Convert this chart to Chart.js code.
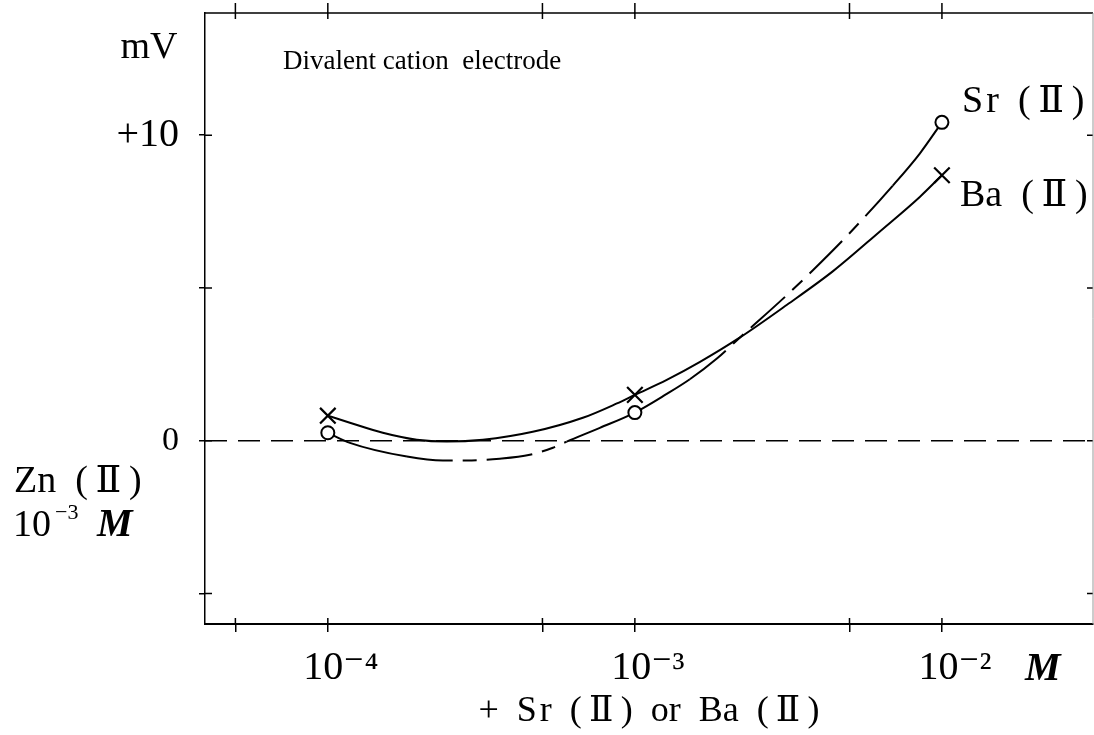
<!DOCTYPE html>
<html>
<head>
<meta charset="utf-8">
<script src="https://cdn.jsdelivr.net/npm/chart.js@4.4.0/dist/chart.umd.min.js"></script>
<style>
  html, body { margin: 0; padding: 0; background: #fff; }
  #wrap { width: 1094px; height: 735px; position: relative; }
</style>
</head>
<body>
<div id="wrap"><canvas id="electrodeChart"></canvas></div>
<script>
// measured points (M, mV)
const concentrations = [1e-4, 1e-3, 1e-2];
const srValues = [0.26, 0.92, 10.42];
const baValues = [0.82, 1.50, 8.69];

// hand-drawn curves
const srCurveX = [1e-4, 1.18e-4, 1.81e-4, 2.37e-4, 2.84e-4, 3.63e-4, 4.55e-4, 5.41e-4, 6.0e-4, 7.69e-4, 1e-3,
                  1.27e-3, 1.51e-3, 1.85e-3, 2.2e-3, 3.13e-3, 3.8e-3, 5.01e-3, 6.92e-3, 8.47e-3, 1e-2];
const srCurveY = [0.26, -0.07, -0.52, -0.65, -0.65, -0.59, -0.46, -0.23, -0.03, 0.42, 0.92,
                  1.53, 2.01, 2.69, 3.38, 4.77, 5.58, 6.80, 8.35, 9.40, 10.42];
const baCurveX = [1e-4, 1.18e-4, 1.51e-4, 1.95e-4, 2.44e-4, 3.2e-4, 4.65e-4, 6.77e-4, 8.74e-4, 1e-3,
                  1.27e-3, 1.63e-3, 2.2e-3, 3.13e-3, 4.42e-3, 6.28e-3, 8.47e-3, 1e-2];
const baCurveY = [0.82, 0.59, 0.26, 0.03, -0.03, 0.03, 0.29, 0.75, 1.22, 1.50,
                  1.99, 2.58, 3.38, 4.45, 5.55, 6.85, 7.98, 8.69];

const xTickValues = [5e-5, 1e-4, 5e-4, 1e-3, 5e-3, 1e-2];
const xLabelValues = [1e-4, 1e-3, 1e-2];
const xLabels = ['10⁻⁴', '10⁻³', '10⁻²'];
const yTickValues = [-5, 0, 5, 10];
const yLabelValues = [0, 10];
const yLabels = ['0', '+10'];

const xMin = Math.pow(10, -4.4);
const xMax = Math.pow(10, -1.508);
const serif = "'Liberation Serif', 'DejaVu Serif', serif";

// Sr curve is broken into long dashes in two stretches
const srDashedRanges = [[1.8e-4, 6.0e-4], [1.5e-3, 6.9e-3]];
const inDashed = v => srDashedRanges.some(r => v >= r[0] - 1e-9 && v < r[1] - 1e-9);

const toPoints = (xs, ys) => xs.map((x, i) => ({x: x, y: ys[i]}));

// keep the plot box fixed: no extra room for overhanging labels
const noPadding = s => { s.paddingTop = 0; s.paddingBottom = 0; s.paddingLeft = 0; s.paddingRight = 0; };

const frame = {
    id: 'frame',
    afterDraw(chart) {
        const {ctx, chartArea: a, scales} = chart;
        ctx.save();
        ctx.strokeStyle = '#000';
        ctx.lineWidth = 1.5;
        ctx.beginPath();
        ctx.moveTo(a.left, a.top);
        ctx.lineTo(a.right, a.top);
        xTickValues.forEach(v => {
            const px = scales.x.getPixelForValue(v);
            ctx.moveTo(px, a.bottom); ctx.lineTo(px, a.bottom - 6);
            ctx.moveTo(px, a.top - 10); ctx.lineTo(px, a.top + 6);
        });
        yTickValues.forEach(v => {
            const py = scales.y.getPixelForValue(v);
            ctx.moveTo(a.left, py); ctx.lineTo(a.left + 7, py);
            ctx.moveTo(a.right, py); ctx.lineTo(a.right - 6, py);
        });
        ctx.stroke();
        ctx.strokeStyle = '#999';
        ctx.lineWidth = 1;
        ctx.beginPath();
        ctx.moveTo(a.right, a.top); ctx.lineTo(a.right, a.bottom);
        ctx.stroke();
        ctx.restore();
    }
};

const annotations = {
    id: 'annotations',
    afterDraw(chart) {
        const ctx = chart.ctx;
        ctx.save();
        ctx.fillStyle = '#000';
        ctx.textBaseline = 'middle';
        const put = (txt, x, y, size, style, align) => {
            ctx.font = (style || '') + ' ' + size + 'px ' + serif;
            ctx.textAlign = align || 'left';
            ctx.fillText(txt, x, y);
            return ctx.measureText(txt).width;
        };
        put('mV', 149, 48, 38, '', 'center');
        put('Divalent cation  electrode', 283, 62, 27);
        put('S\u200Ar  (\u2009Ⅱ\u2009)', 962, 102, 38);
        put('Ba  (\u2009Ⅱ\u2009)', 960, 196, 38);
        put('Zn  (\u2009Ⅱ\u2009)', 14, 482, 38);
        const w = put('10', 13, 526, 38);
        put('−3', 13 + w + 4, 513, 22);
        put('M', 97, 526, 40, 'italic bold');
        put('M', 1025, 670, 40, 'italic bold');
        ctx.restore();
    }
};

const ctx = document.getElementById('electrodeChart').getContext('2d');
const electrodeChart = new Chart(ctx, {
    type: 'line',
    data: {
        datasets: [
            {
                label: 'Sr (II)',
                data: toPoints(concentrations, srValues),
                showLine: false,
                pointStyle: 'circle',
                pointRadius: 6.5,
                pointBorderWidth: 2,
                pointBorderColor: '#000',
                pointBackgroundColor: '#fff'
            },
            {
                label: 'Ba (II)',
                data: toPoints(concentrations, baValues),
                showLine: false,
                pointStyle: 'crossRot',
                pointRadius: 11,
                pointBorderWidth: 2.2,
                pointBorderColor: '#000'
            },
            {
                label: 'Sr curve',
                data: toPoints(srCurveX, srCurveY),
                borderColor: '#000',
                borderWidth: 2,
                pointRadius: 0,
                cubicInterpolationMode: 'monotone',
                segment: {
                    borderDash: c => inDashed(c.p0.parsed.x) ? [46, 10, 14, 10] : []
                }
            },
            {
                label: 'Ba curve',
                data: toPoints(baCurveX, baCurveY),
                borderColor: '#000',
                borderWidth: 2,
                pointRadius: 0,
                cubicInterpolationMode: 'monotone'
            },
            {
                label: 'zero',
                data: [{x: xMin, y: 0}, {x: xMax, y: 0}],
                borderColor: '#000',
                borderWidth: 1.4,
                borderDash: [22, 11],
                pointRadius: 0
            }
        ]
    },
    options: {
        responsive: true,
        maintainAspectRatio: false,
        animation: false,
        layout: { autoPadding: false, padding: { top: 13, right: 1, left: 0, bottom: 0 } },
        plugins: {
            legend: { display: false },
            tooltip: { enabled: false }
        },
        scales: {
            x: {
                type: 'logarithmic',
                min: xMin,
                max: xMax,
                bounds: 'data',
                afterBuildTicks: s => { s.ticks = xTickValues.map(v => ({value: v})); },
                afterFit: s => { s.height = 111; noPadding(s); },
                border: { color: '#000', width: 2 },
                grid: { drawOnChartArea: false, color: '#000', lineWidth: 1.5, tickLength: 8 },
                ticks: {
                    autoSkip: false,
                    maxRotation: 0,
                    padding: 12,
                    labelOffset: 13,
                    color: '#000',
                    font: { family: serif, size: 40 },
                    callback: v => {
                        const i = xLabelValues.findIndex(t => Math.abs(t - v) / t < 1e-6);
                        return i >= 0 ? xLabels[i] : '';
                    }
                },
                title: {
                    display: true,
                    text: '+  S\u200Ar  (\u2009Ⅱ\u2009)  or  Ba  (\u2009Ⅱ\u2009)',
                    color: '#000',
                    font: { family: serif, size: 36, lineHeight: 1 },
                    padding: { top: 0, bottom: 5 }
                }
            },
            y: {
                type: 'linear',
                min: -6,
                max: 14,
                afterBuildTicks: s => { s.ticks = yTickValues.map(v => ({value: v})); },
                afterFit: s => { s.width = 205; noPadding(s); },
                border: { color: '#000', width: 1.5 },
                grid: { drawOnChartArea: false, color: '#000', lineWidth: 1.5, tickLength: 6 },
                ticks: {
                    padding: 20,
                    color: '#000',
                    font: c => ({ family: serif, size: (c.tick && c.tick.value === 0) ? 34 : 40 }),
                    callback: v => {
                        const i = yLabelValues.indexOf(v);
                        return i >= 0 ? yLabels[i] : '';
                    }
                }
            }
        }
    },
    plugins: [frame, annotations]
});
</script>
</body>
</html>
